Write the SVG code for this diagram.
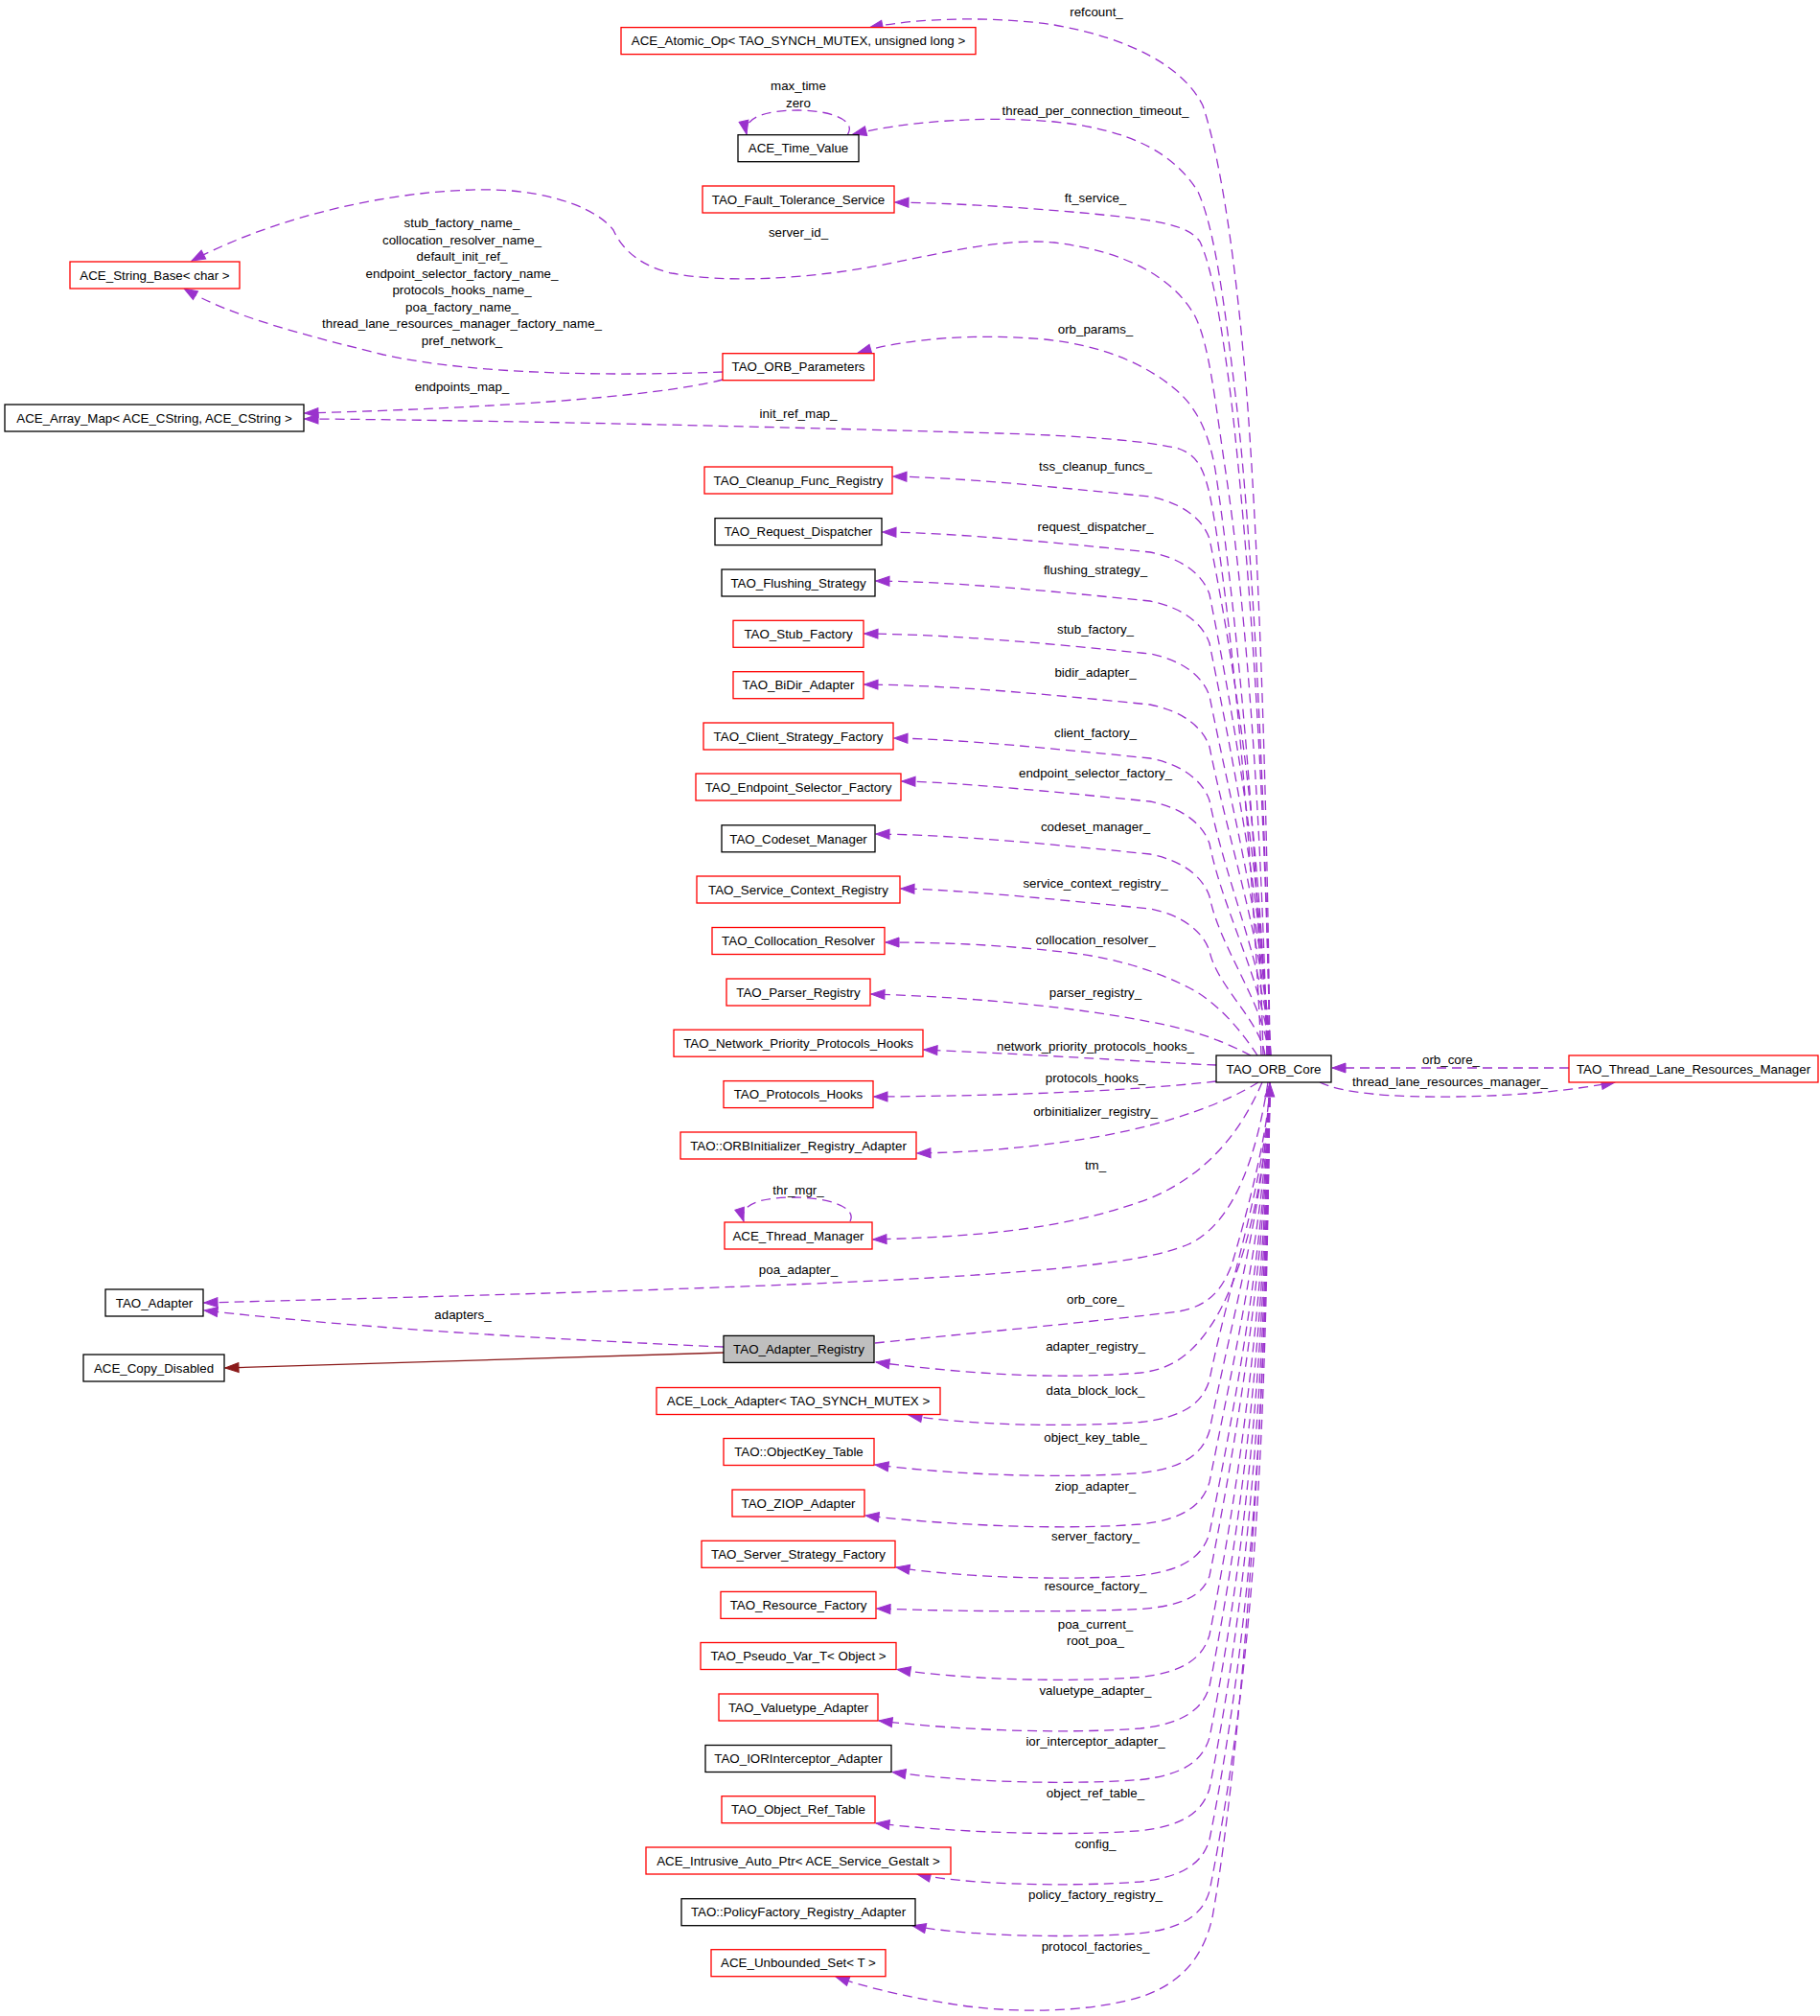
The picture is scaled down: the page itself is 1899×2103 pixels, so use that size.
<svg xmlns="http://www.w3.org/2000/svg" width="1899" height="2103" viewBox="0 0 1899 2103">
<defs>
<marker id="a" markerUnits="userSpaceOnUse" markerWidth="16" markerHeight="12" viewBox="0 0 16 12" refX="15" refY="6" orient="auto"><path d="M1,1 L15,6 L1,11 z" fill="#9a32cd" stroke="#9a32cd"/></marker>
<marker id="ad" markerUnits="userSpaceOnUse" markerWidth="16" markerHeight="12" viewBox="0 0 16 12" refX="15" refY="6" orient="auto"><path d="M1,1 L15,6 L1,11 z" fill="#8b1a1a" stroke="#8b1a1a"/></marker>
<style>
text{font-family:"Liberation Sans",Arial,sans-serif;font-size:13.33px;fill:#000}
.n text{text-anchor:middle}
.n rect{fill:#fff;stroke-width:1.3}
.r rect{stroke:#ff0000}
.b rect{stroke:#000}
.g rect{fill:#bfbfbf;stroke:#000}
.e path{fill:none;stroke:#9a32cd;stroke-width:1.3;stroke-dasharray:10,6;marker-end:url(#a)}
.e path.inh{stroke:#8b1a1a;stroke-dasharray:none;marker-end:url(#ad)}
.l text{text-anchor:middle}
</style>
</defs>
<rect width="1899" height="2103" fill="#fff"/>
<g id="edges" class="e">
<path d="M1325,1101 C1322,800 1312,550 1300,400 C1290,280 1275,170 1255,110 C1235,70 1180,40 1100,26 C1040,17 960,18 907,29"/>
<path d="M884,141 C895,125 865,115 833,115 C800,115 775,122 779,140"/>
<path d="M1325,1101 C1320,800 1305,550 1290,420 C1278,320 1268,240 1250,200 C1225,160 1180,135 1100,127 C1020,120 940,128 890,140"/>
<path d="M1325,1101 C1320,800 1300,550 1285,420 C1275,340 1265,280 1252,252 C1240,235 1210,230 1150,224 C1080,217 1000,212 934,211"/>
<path d="M1322,1101 C1315,800 1295,600 1280,500 C1268,420 1262,360 1247,330 C1225,290 1175,262 1100,253 C1040,247 960,270 900,280 C840,290 760,296 701,285 C670,278 650,262 640,240 C625,220 580,200 517,198 C440,196 310,215 200,272"/>
<path d="M754,388 C650,392 500,392 400,370 C320,350 240,330 192,301"/>
<path d="M1318,1101 C1312,850 1285,600 1268,490 C1262,455 1250,425 1225,405 C1195,380 1150,360 1090,354 C1020,348 950,352 895,368"/>
<path d="M754,396 C680,415 500,426 318,431"/>
<path d="M1316,1101 C1305,850 1280,600 1262,515 C1256,490 1250,475 1230,468 C1200,460 1120,454 1042,452 C800,445 500,438 318,437"/>
<path d="M1322,1101 C1317,921.3 1297.9,741.7 1262,562 C1255,542 1235,525 1200,518 C1100,508 1000,498 932,497"/>
<path d="M1323,1101 C1318,940.7 1294.1,780.3 1262,620 C1255,600 1235,583 1200,576 C1100,566 1000,556 921,555"/>
<path d="M1324,1101 C1319,957.7 1290.7,814.3 1262,671 C1255,651 1235,634 1200,627 C1100,617 1000,607 914,606"/>
<path d="M1325,1101 C1320,976 1287,851 1262,726 C1255,706 1235,689 1200,682 C1100,672 1000,662 902,661"/>
<path d="M1326,1101 C1321,993.7 1283.5,886.3 1262,779 C1255,759 1235,742 1200,735 C1100,725 1000,715 902,714"/>
<path d="M1326,1101 C1321,1012.3 1279.7,923.7 1262,835 C1255,815 1235,798 1200,791 C1100,781 1000,771 933,770"/>
<path d="M1325,1101 C1320,1027.3 1276.7,953.7 1262,880 C1255,860 1235,843 1200,836 C1100,826 1000,816 941,815"/>
<path d="M1324,1101 C1319,1045.7 1273.1,990.3 1262,935 C1255,915 1235,898 1200,891 C1100,881 1000,871 914,870"/>
<path d="M1320,1101 C1315,1064.7 1269.3,1028.3 1262,992 C1255,972 1235,955 1200,948 C1100,938 1000,928 940,927"/>
<path d="M1312,1101 C1295,1075 1270,1045 1240,1030 C1210,1015 1170,1000 1117,994 C1050,986 990,983 924,983"/>
<path d="M1305,1101 C1280,1088 1250,1075 1200,1066 C1130,1052 1020,1040 909,1037"/>
<path d="M1269,1111 C1200,1108 1100,1101 964,1095"/>
<path d="M1269,1128 C1200,1136 1080,1143 912,1144"/>
<path d="M1313,1129 C1280,1150 1220,1172 1150,1185 C1080,1197 1020,1202 957,1203"/>
<path d="M1317,1129 C1295,1180 1260,1225 1200,1250 C1120,1280 1030,1290 911,1293"/>
<path d="M887,1274 C895,1258 860,1249 828,1249 C795,1249 770,1256 776,1274"/>
<path d="M1323,1129 C1312,1200 1290,1275 1240,1298 C1190,1320 1050,1331 800,1341 C600,1349 400,1354 213,1359"/>
<path d="M755,1405 C600,1398 400,1388 213,1367"/>
<path class="inh" d="M755,1411 L235,1427"/>
<path d="M913,1401 C1000,1392 1150,1378 1230,1368 C1262,1362 1275,1345 1285,1320 C1300,1270 1324,1180 1325,1130"/>
<path d="M1325,1129 C1322,1220 1300,1330 1262,1385 C1245,1410 1225,1428 1190,1432 C1100,1440 1000,1432 914,1421"/>
<path d="M1325,1129 C1321,1232.5 1282.7,1336 1262,1439.5 C1255,1463.5 1235,1478.5 1190,1483.5 C1110,1489.5 1000,1486 948,1476"/>
<path d="M1325,1129 C1321,1250.2 1286.2,1371.3 1262,1492.5 C1255,1516.5 1235,1531.5 1190,1536.5 C1110,1542.5 1000,1539 913,1528"/>
<path d="M1325,1129 C1321,1268 1289.8,1407 1262,1546 C1255,1570 1235,1585 1190,1590 C1110,1596 1000,1592 903,1581"/>
<path d="M1325,1129 C1321,1285.8 1293.4,1442.5 1262,1599.3 C1255,1623.3 1235,1638.3 1190,1643.3 C1110,1649.3 1000,1645.3 935,1635"/>
<path d="M1325,1129 C1321,1300.7 1296.3,1472.3 1262,1644 C1255,1664 1235,1675 1190,1678.5 C1110,1682 1000,1681 915,1678"/>
<path d="M1325,1129 C1321,1321.2 1300.4,1513.3 1262,1705.5 C1255,1729.5 1235,1744.5 1190,1749.5 C1110,1755.5 1000,1751.5 936,1741.5"/>
<path d="M1325,1129 C1321,1339 1304,1549 1262,1759 C1255,1783 1235,1798 1190,1803 C1110,1809 1000,1805 917,1795"/>
<path d="M1325,1129 C1321,1356.8 1307.6,1584.7 1262,1812.5 C1255,1836.5 1235,1851.5 1190,1856.5 C1110,1862.5 1000,1858.5 931,1848.5"/>
<path d="M1325,1129 C1321,1374.6 1311.1,1620.1 1262,1865.7 C1255,1889.7 1235,1904.7 1190,1909.7 C1110,1915.7 1000,1911.7 914,1902"/>
<path d="M1325,1129 C1321,1392.3 1314.7,1655.7 1262,1919 C1255,1943 1235,1958 1190,1963 C1110,1969 1000,1965 957,1955"/>
<path d="M1325,1129 C1321,1410.2 1318.2,1691.5 1262,1972.7 C1255,1996.7 1235,2011.7 1190,2016.7 C1110,2022.7 1000,2018.7 952,2008.7"/>
<path d="M1325,1129 C1322,1500 1292,1850 1265,2000 C1255,2045 1228,2075 1176,2087 C1120,2100 1050,2100 990,2090 C940,2082 900,2072 872,2062"/>
<path d="M1637,1114 L1390,1114"/>
<path d="M1377,1129 C1400,1140 1450,1145 1520,1144 C1590,1143 1640,1137 1685,1129"/>
</g>
<g id="labels" class="l">
<text x="1144" y="17.3">refcount_</text>
<text x="833" y="93.5">max_time</text>
<text x="833" y="111.5">zero</text>
<text x="1143" y="119.5">thread_per_connection_timeout_</text>
<text x="1143" y="211.4">ft_service_</text>
<text x="833" y="247.3">server_id_</text>
<text x="482" y="237.4">stub_factory_name_</text>
<text x="482" y="254.9">collocation_resolver_name_</text>
<text x="482" y="272.4">default_init_ref_</text>
<text x="482" y="289.9">endpoint_selector_factory_name_</text>
<text x="482" y="307.4">protocols_hooks_name_</text>
<text x="482" y="324.9">poa_factory_name_</text>
<text x="482" y="342.4">thread_lane_resources_manager_factory_name_</text>
<text x="482" y="359.9">pref_network_</text>
<text x="1143" y="347.7">orb_params_</text>
<text x="482" y="408">endpoints_map_</text>
<text x="833" y="435.7">init_ref_map_</text>
<text x="1143" y="491.1">tss_cleanup_funcs_</text>
<text x="1143" y="553.5">request_dispatcher_</text>
<text x="1143" y="598.8">flushing_strategy_</text>
<text x="1143" y="660.5">stub_factory_</text>
<text x="1143" y="706.1">bidir_adapter_</text>
<text x="1143" y="768.7">client_factory_</text>
<text x="1143" y="811.4">endpoint_selector_factory_</text>
<text x="1143" y="867.4">codeset_manager_</text>
<text x="1143" y="925.7">service_context_registry_</text>
<text x="1143" y="984.7">collocation_resolver_</text>
<text x="1143" y="1039.7">parser_registry_</text>
<text x="1143" y="1095.7">network_priority_protocols_hooks_</text>
<text x="1143" y="1128.7">protocols_hooks_</text>
<text x="1143" y="1163.7">orbinitializer_registry_</text>
<text x="1143" y="1219.7">tm_</text>
<text x="833" y="1246.4">thr_mgr_</text>
<text x="833" y="1329.2">poa_adapter_</text>
<text x="1143" y="1359.7">orb_core_</text>
<text x="483" y="1376">adapters_</text>
<text x="1143" y="1408.7">adapter_registry_</text>
<text x="1143" y="1455.2">data_block_lock_</text>
<text x="1143" y="1504.2">object_key_table_</text>
<text x="1143" y="1555.2">ziop_adapter_</text>
<text x="1143" y="1607.3">server_factory_</text>
<text x="1143" y="1659.3">resource_factory_</text>
<text x="1143" y="1699.1">poa_current_</text>
<text x="1143" y="1716.4">root_poa_</text>
<text x="1143" y="1768">valuetype_adapter_</text>
<text x="1143" y="1821">ior_interceptor_adapter_</text>
<text x="1143" y="1875.1">object_ref_table_</text>
<text x="1143" y="1928.2">config_</text>
<text x="1143" y="1981.2">policy_factory_registry_</text>
<text x="1143" y="2035.3">protocol_factories_</text>
<text x="1514" y="1109.7">orb_core_</text>
<text x="1513" y="1133">thread_lane_resources_manager_</text>
</g>
<g id="n_atomic_op" class="n r"><rect x="648" y="28.6" width="370" height="28"/><text x="833" y="47.3">ACE_Atomic_Op&lt; TAO_SYNCH_MUTEX, unsigned long &gt;</text></g>
<g id="n_time_value" class="n b"><rect x="770" y="140.7" width="126" height="28"/><text x="833" y="159.4">ACE_Time_Value</text></g>
<g id="n_fault_tolerance" class="n r"><rect x="733" y="194" width="200" height="28"/><text x="833" y="212.7">TAO_Fault_Tolerance_Service</text></g>
<g id="n_string_base" class="n r"><rect x="73" y="273" width="177" height="28"/><text x="161.5" y="291.7">ACE_String_Base&lt; char &gt;</text></g>
<g id="n_orb_parameters" class="n r"><rect x="754" y="368.7" width="158" height="28"/><text x="833" y="387.4">TAO_ORB_Parameters</text></g>
<g id="n_array_map" class="n b"><rect x="5" y="422" width="312" height="28"/><text x="161" y="440.7">ACE_Array_Map&lt; ACE_CString, ACE_CString &gt;</text></g>
<g id="n_cleanup" class="n r"><rect x="735" y="487" width="196" height="28"/><text x="833" y="505.7">TAO_Cleanup_Func_Registry</text></g>
<g id="n_request_dispatcher" class="n b"><rect x="746" y="540.6" width="174" height="28"/><text x="833" y="559.3">TAO_Request_Dispatcher</text></g>
<g id="n_flushing" class="n b"><rect x="753" y="594" width="160" height="28"/><text x="833" y="612.7">TAO_Flushing_Strategy</text></g>
<g id="n_stub_factory" class="n r"><rect x="765" y="647.3" width="136" height="28"/><text x="833" y="666">TAO_Stub_Factory</text></g>
<g id="n_bidir" class="n r"><rect x="765" y="700.7" width="136" height="28"/><text x="833" y="719.4">TAO_BiDir_Adapter</text></g>
<g id="n_client_strategy" class="n r"><rect x="734" y="754" width="198" height="28"/><text x="833" y="772.7">TAO_Client_Strategy_Factory</text></g>
<g id="n_endpoint_selector" class="n r"><rect x="726" y="807" width="214" height="28"/><text x="833" y="825.7">TAO_Endpoint_Selector_Factory</text></g>
<g id="n_codeset" class="n b"><rect x="753" y="860.8" width="160" height="28"/><text x="833" y="879.5">TAO_Codeset_Manager</text></g>
<g id="n_service_context" class="n r"><rect x="727" y="914" width="212" height="28"/><text x="833" y="932.7">TAO_Service_Context_Registry</text></g>
<g id="n_collocation" class="n r"><rect x="743" y="967.5" width="180" height="28"/><text x="833" y="986.2">TAO_Collocation_Resolver</text></g>
<g id="n_parser" class="n r"><rect x="758" y="1021" width="150" height="28"/><text x="833" y="1039.7">TAO_Parser_Registry</text></g>
<g id="n_netprio" class="n r"><rect x="703" y="1074.2" width="260" height="28"/><text x="833" y="1092.9">TAO_Network_Priority_Protocols_Hooks</text></g>
<g id="n_protocols_hooks" class="n r"><rect x="755" y="1127.6" width="156" height="28"/><text x="833" y="1146.3">TAO_Protocols_Hooks</text></g>
<g id="n_orbinit" class="n r"><rect x="710" y="1181" width="246" height="28"/><text x="833" y="1199.7">TAO::ORBInitializer_Registry_Adapter</text></g>
<g id="n_thread_manager" class="n r"><rect x="756" y="1275" width="154" height="28"/><text x="833" y="1293.7">ACE_Thread_Manager</text></g>
<g id="n_tao_adapter" class="n b"><rect x="110" y="1345" width="102" height="28"/><text x="161" y="1363.7">TAO_Adapter</text></g>
<g id="n_copy_disabled" class="n b"><rect x="87" y="1413" width="147" height="28"/><text x="160.5" y="1431.7">ACE_Copy_Disabled</text></g>
<g id="n_adapter_registry" class="n g"><rect x="755" y="1393.4" width="157" height="28"/><text x="833.5" y="1412.1">TAO_Adapter_Registry</text></g>
<g id="n_lock_adapter" class="n r"><rect x="685" y="1447.5" width="296" height="28"/><text x="833" y="1466.2">ACE_Lock_Adapter&lt; TAO_SYNCH_MUTEX &gt;</text></g>
<g id="n_objectkey" class="n r"><rect x="755" y="1500.5" width="157" height="28"/><text x="833.5" y="1519.2">TAO::ObjectKey_Table</text></g>
<g id="n_ziop" class="n r"><rect x="764" y="1554" width="138" height="28"/><text x="833" y="1572.7">TAO_ZIOP_Adapter</text></g>
<g id="n_server_strategy" class="n r"><rect x="732" y="1607.3" width="202" height="28"/><text x="833" y="1626">TAO_Server_Strategy_Factory</text></g>
<g id="n_resource" class="n r"><rect x="752" y="1660.4" width="162" height="28"/><text x="833" y="1679.1">TAO_Resource_Factory</text></g>
<g id="n_pseudo_var" class="n r"><rect x="731" y="1713.5" width="204" height="28"/><text x="833" y="1732.2">TAO_Pseudo_Var_T&lt; Object &gt;</text></g>
<g id="n_valuetype" class="n r"><rect x="750" y="1767" width="166" height="28"/><text x="833" y="1785.7">TAO_Valuetype_Adapter</text></g>
<g id="n_ior" class="n b"><rect x="736" y="1820.5" width="194" height="28"/><text x="833" y="1839.2">TAO_IORInterceptor_Adapter</text></g>
<g id="n_object_ref" class="n r"><rect x="753" y="1873.7" width="160" height="28"/><text x="833" y="1892.4">TAO_Object_Ref_Table</text></g>
<g id="n_intrusive" class="n r"><rect x="674" y="1927" width="318" height="28"/><text x="833" y="1945.7">ACE_Intrusive_Auto_Ptr&lt; ACE_Service_Gestalt &gt;</text></g>
<g id="n_policy" class="n b"><rect x="711" y="1980.7" width="244" height="28"/><text x="833" y="1999.4">TAO::PolicyFactory_Registry_Adapter</text></g>
<g id="n_unbounded" class="n r"><rect x="742" y="2033.7" width="182" height="28"/><text x="833" y="2052.4">ACE_Unbounded_Set&lt; T &gt;</text></g>
<g id="n_orb_core" class="n b"><rect x="1269" y="1101" width="120" height="28"/><text x="1329" y="1119.7">TAO_ORB_Core</text></g>
<g id="n_tlrm" class="n r"><rect x="1637" y="1101" width="260" height="28"/><text x="1767" y="1119.7">TAO_Thread_Lane_Resources_Manager</text></g>
</svg>
